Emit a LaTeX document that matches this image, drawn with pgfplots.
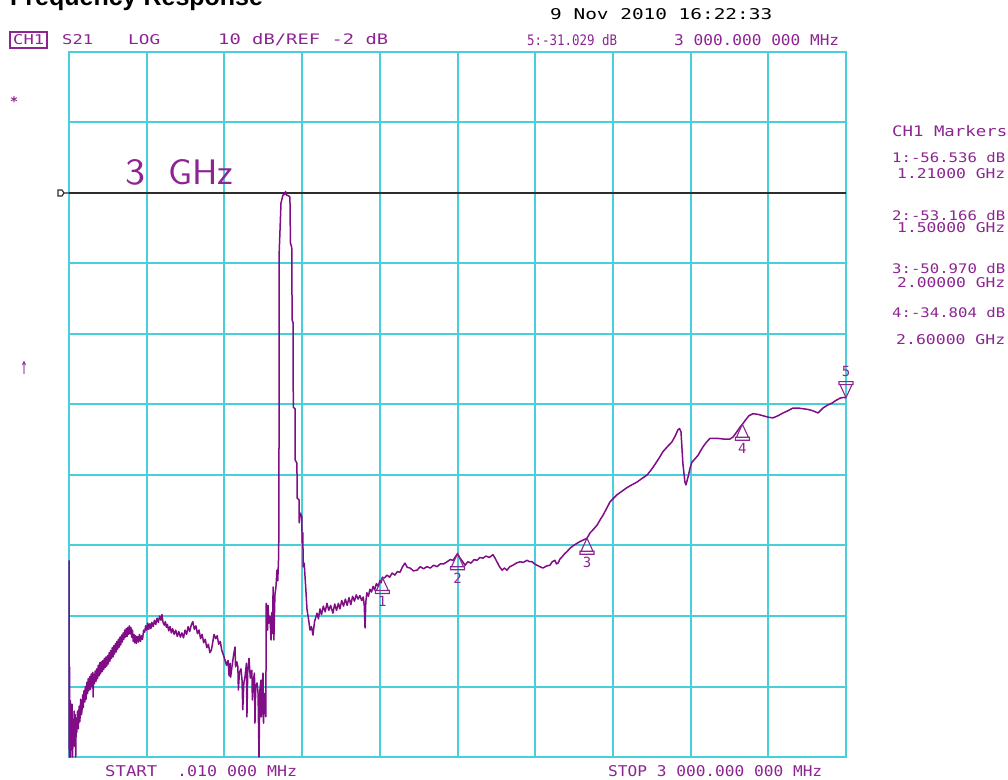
\documentclass[border=0pt]{standalone}
\usepackage{pgfplots}
\pgfplotsset{compat=1.18}
\usepackage{graphicx}
\usepackage{fontspec}
\newfontfamily\mono{DejaVu Sans Mono}
\newfontfamily\titlefont{Liberation Sans}

\definecolor{gridcyan}{RGB}{72,208,218}
\definecolor{trace}{RGB}{128,12,134}
\definecolor{ink}{RGB}{140,36,146}
\definecolor{refline}{RGB}{45,45,45}

% instrument-style text: x, baseline y (from top), width, height, text, colour
\newcommand{\txt}[6]{\node[anchor=base west, inner sep=0pt, text=#6] at (#1,{779-#2}) {\resizebox{#3pt}{#4pt}{\mono #5}};}

% marker symbols
\pgfdeclareplotmark{mkup}{%
  \pgfpathmoveto{\pgfpoint{0pt}{0pt}}%
  \pgfpathlineto{\pgfpoint{-6pt}{-13pt}}%
  \pgfpathlineto{\pgfpoint{6pt}{-13pt}}%
  \pgfpathclose
  \pgfpathrectangle{\pgfpoint{-7pt}{-16pt}}{\pgfpoint{14pt}{3pt}}%
  \pgfusepathqstroke}
\pgfdeclareplotmark{mkdown}{%
  \pgfpathmoveto{\pgfpoint{0pt}{0pt}}%
  \pgfpathlineto{\pgfpoint{-6pt}{13pt}}%
  \pgfpathlineto{\pgfpoint{6pt}{13pt}}%
  \pgfpathclose
  \pgfpathrectangle{\pgfpoint{-7pt}{13pt}}{\pgfpoint{14pt}{3pt}}%
  \pgfusepathqstroke}
\pgfdeclareplotmark{refflag}{%
  \pgfpathmoveto{\pgfpoint{-11pt}{-3pt}}%
  \pgfpathlineto{\pgfpoint{-7pt}{-3pt}}%
  \pgfpathlineto{\pgfpoint{-5pt}{0pt}}%
  \pgfpathlineto{\pgfpoint{-7pt}{3pt}}%
  \pgfpathlineto{\pgfpoint{-11pt}{3pt}}%
  \pgfpathclose
  \pgfpathmoveto{\pgfpoint{-5pt}{0pt}}%
  \pgfpathlineto{\pgfpoint{0pt}{0pt}}%
  \pgfusepathqstroke}

% S21 trace, frequency in MHz, magnitude in dB
\pgfplotstableread{
f db
0.01 -54.1
1 -82
2.5 -69.2
3.5 -82
5 -74
6.5 -82
8 -76
10 -81
12 -74.5
14 -82
16 -77
18 -79.5
20 -75.5
22 -80.5
24 -76
26 -82
28 -76.5
30 -78.5
33 -75.5
36 -78
39 -74.8
42 -77
45 -73.8
48 -76
50 -75.5
53 -73.2
55 -75.0
58 -72.6
61 -74.2
63 -72.0
66 -73.8
69 -71.4
72 -73.0
74 -70.9
77 -72.6
80 -70.6
83 -72.4
86 -70.2
89 -72.0
92 -70.0
93 -73.5
95 -70.3
98 -71.6
101 -69.8
104 -71.3
107 -69.5
110 -70.9
113 -69.0
116 -70.5
119 -68.6
122 -70.2
125 -68.5
128 -69.9
131 -68.3
134 -69.6
137 -68.0
140 -69.3
143 -67.8
146 -69.1
149 -67.6
152 -68.8
155 -67.2
158 -68.4
161 -66.9
164 -68.0
167 -66.5
170 -67.8
173 -66.2
176 -67.4
179 -65.9
182 -67.1
185 -65.6
188 -66.7
191 -65.3
194 -66.4
197 -65.0
200 -66.1
203 -64.7
206 -65.7
209 -64.4
212 -65.3
215 -64.0
218 -65.0
221 -63.8
224 -64.9
227 -63.6
230 -64.6
233 -63.4
236 -64.5
239 -63.6
242 -65.0
245 -64.0
248 -65.6
251 -64.6
254 -65.8
257 -64.8
260 -65.9
264 -64.9
268 -65.7
272 -64.6
276 -65.6
280 -64.8
284 -65.3
288 -64.0
292 -64.3
296 -63.4
300 -64.0
304 -63.0
308 -63.9
312 -63.1
316 -63.8
320 -62.9
325 -63.5
330 -62.6
335 -63.2
340 -62.3
345 -62.9
350 -62.0
355 -62.6
359 -61.8
363 -62.9
368 -63.3
372 -62.8
376 -63.6
380 -63.2
385 -64.1
390 -63.5
395 -64.4
400 -63.8
406 -64.6
412 -64.0
418 -64.9
424 -64.2
430 -65.0
436 -64.4
442 -65.1
448 -64.0
454 -64.6
460 -63.5
466 -64.2
472 -63.3
478 -62.8
484 -63.9
490 -63.4
496 -64.5
502 -64.0
508 -65.2
514 -64.6
520 -65.8
526 -65.3
532 -66.5
538 -66.0
544 -67.2
550 -66.8
556 -65.5
560 -64.6
566 -65.2
572 -64.8
578 -66.0
584 -65.6
590 -66.9
596 -67.5
602 -68.2
608 -69.0
614 -68.3
618 -70.5
622 -68.7
624 -70.7
630 -69.0
636 -67.4
641 -66.4
643 -69.2
648 -68.5
652 -69.2
654 -72.5
658 -70.0
664 -69.5
668 -71.1
671 -75.3
675 -71.5
680 -70.5
685 -68.7
687 -76.3
690 -70.0
695 -68.0
700 -70.8
706 -69.7
708 -73.9
712 -71.0
716 -70.1
718 -77.2
721 -72.0
726 -71.5
730 -73.0
733.6 -82
737 -72.5
741 -71.1
743 -76.3
746 -72.0
749 -70.1
751 -77.2
755 -73.0
758 -74.0
760 -76.3
761.5 -60.2
764 -62.5
767 -64.0
768.5 -60.5
772 -63.0
776 -62.1
780 -65.4
783 -61.5
786 -64.5
788 -57.9
791 -65.4
795 -59.0
799 -57.9
803 -55.5
806 -57.0
809 -54.0
810.5 -49.8
811.5 -10.5
818.5 -3.4
826 -2.3
832 -2.2
836 -1.8
840 -2.3
848 -2.4
853 -2.6
855 -9.1
860 -9.7
861.5 -20.0
865 -20.4
866 -32.4
872.6 -32.6
873.5 -39.9
880 -40.3
881 -45.3
888 -45.5
889 -48.8
893 -47.4
899 -47.9
900 -51.6
903 -50.2
904 -55.0
908 -54.5
914 -58.0
919 -61.1
925 -62.5
930.5 -64.0
936 -63.5
942 -64.7
948 -62.8
957.5 -61.6
963 -62.4
969 -61.0
975 -61.8
982 -60.6
989 -61.4
996 -60.2
1003 -61.2
1010 -60.5
1019 -61.6
1026 -60.3
1033 -61.2
1040 -60.2
1046 -61.0
1053 -59.8
1060 -60.6
1067 -59.6
1074 -60.5
1081 -59.4
1088 -60.4
1095 -59.2
1102 -59.9
1109 -59.0
1116 -59.6
1123 -59.1
1130 -59.8
1136 -59.3
1140 -60.5
1143 -63.7
1146 -60.0
1150 -58.7
1156 -59.2
1162 -58.2
1168 -58.6
1174 -57.8
1180 -58.3
1187 -57.4
1194 -57.8
1200 -57.0
1205 -57.3
1210 -56.536
1218 -56.6
1228 -56.2
1238 -56.5
1248 -55.9
1258 -56.2
1268 -55.7
1278 -55.8
1288 -55.0
1297 -54.5
1306 -55.1
1317 -55.2
1330 -55.6
1344 -55.5
1356 -55.0
1369 -55.3
1382 -55.0
1395 -55.2
1408 -54.8
1421 -55.0
1434 -54.6
1447 -54.6
1460 -54.3
1472 -54.0
1483 -54.1
1492 -53.6
1500 -53.166
1510 -53.8
1520 -54.3
1529 -54.8
1540 -54.3
1552 -54.5
1564 -54.0
1575 -54.1
1587 -53.7
1598 -53.8
1610 -53.5
1623 -53.7
1637 -53.3
1645 -53.8
1652 -54.3
1662 -55.0
1672 -55.5
1681 -55.2
1691 -55.5
1702 -55.0
1714 -54.8
1727 -54.5
1741 -54.3
1754 -54.4
1768 -54.1
1778 -54.3
1788 -54.3
1797 -54.6
1807 -54.8
1818 -55.0
1830 -55.2
1844 -54.9
1857 -54.8
1866 -54.3
1876 -54.1
1882 -54.6
1888 -54.5
1896 -53.9
1904 -53.6
1913 -53.2
1922 -52.9
1934 -52.4
1948 -52.0
1961 -51.7
1975 -51.4
1987 -51.2
2000 -50.970
2012 -50.2
2025 -49.7
2039 -49.1
2050 -48.4
2062 -47.7
2075 -46.8
2089 -45.8
2102 -45.3
2116 -44.8
2135 -44.3
2154 -43.8
2173 -43.4
2193 -43.0
2212 -42.5
2232 -42.0
2245 -41.4
2255 -40.9
2275 -39.8
2293 -38.7
2310 -38.0
2328 -37.3
2340 -36.5
2351 -35.6
2357 -35.4
2363 -35.9
2370 -40.3
2378 -43.0
2382 -43.4
2390 -42.3
2398 -41.0
2405 -40.2
2417 -39.7
2429 -39.2
2438 -38.6
2448 -38.0
2460 -37.4
2475 -36.8
2490 -36.8
2502 -36.8
2527 -36.9
2552 -36.9
2564 -36.6
2578 -35.9
2591 -35.2
2600 -34.804
2612 -34.2
2625 -33.6
2641 -33.3
2660 -33.4
2680 -33.6
2700 -33.8
2718 -33.9
2737 -33.6
2757 -33.2
2775 -32.9
2795 -32.5
2815 -32.5
2834 -32.6
2853 -32.7
2873 -32.9
2892 -33.2
2911 -32.5
2928 -32.1
2946 -31.8
2962 -31.4
2977 -31.1
2990 -31.0
3000 -31.029
}\tracetable

\begin{document}
\begin{tikzpicture}[x=1pt,y=1pt]
\useasboundingbox (0,0) rectangle (1008,779);

\begin{axis}[
  at={(69pt,22pt)}, anchor=south west,
  width=777pt, height=705pt, scale only axis,
  xmin=0, xmax=3000, ymin=-82, ymax=18,
  xtick={0,300,...,3000}, ytick={-82,-72,...,18},
  xticklabels={}, yticklabels={},
  major tick length=0pt,
  grid=major,
  grid style={gridcyan, line width=2pt},
  axis line style={gridcyan, line width=2pt},
  clip=false,
]
% reference level
\addplot[refline, line width=1.8pt, mark=refflag, mark repeat=2, mark options={line width=1.2pt, solid}] coordinates {(0,-2) (3000,-2)};

% measured trace
\addplot[trace, line width=1.5pt, line join=round, no markers] table[x=f, y=db] {\tracetable};

% markers 1-4
\addplot[only marks, mark=mkup, ink, mark options={line width=1.1pt}] coordinates {
  (1210,-56.536) (1500,-53.166) (2000,-50.970) (2600,-34.804)};
% marker 5
\addplot[only marks, mark=mkdown, ink, mark options={line width=1.1pt}] coordinates {(3000,-31.029)};

\node[anchor=north, inner sep=0pt, text=ink, yshift=-19pt] at (axis cs:1210,-56.536) {\mono\fontsize{14}{14}\selectfont 1};
\node[anchor=north, inner sep=0pt, text=ink, yshift=-19pt] at (axis cs:1500,-53.166) {\mono\fontsize{14}{14}\selectfont 2};
\node[anchor=north, inner sep=0pt, text=ink, yshift=-19pt] at (axis cs:2000,-50.970) {\mono\fontsize{14}{14}\selectfont 3};
\node[anchor=north, inner sep=0pt, text=ink, yshift=-19pt] at (axis cs:2600,-34.804) {\mono\fontsize{14}{14}\selectfont 4};
\node[anchor=south, inner sep=0pt, text=ink, yshift=21pt] at (axis cs:3000,-31.029) {\mono\fontsize{14}{14}\selectfont 5};
\end{axis}

% title (partly above the page edge)
\node[anchor=base west, inner sep=0pt] at (10,{779-6}) {\titlefont\bfseries\fontsize{25}{25}\selectfont Frequency Response};

% header lines
\txt{550}{20}{222}{11}{9 Nov 2010  16:22:33}{black}
\draw[ink, line width=1.2pt] (10,{779-48}) rectangle (47,{779-32});
\txt{13}{45}{31}{10}{CH1}{ink}
\txt{62}{45}{31}{10}{S21}{ink}
\txt{128}{45}{32}{10}{LOG}{ink}
\txt{218}{45}{170}{11}{10 dB/REF -2 dB}{ink}
\txt{527}{46}{90}{11}{5:-31.029 dB}{ink}
\txt{674}{46}{165}{11}{3 000.000 000 MHz}{ink}

% side symbols
\node[anchor=center, inner sep=0pt, text=ink] at (14,{779-102}) {\resizebox{8pt}{!}{\mono\bfseries *}};
\node[anchor=base, inner sep=0pt, text=ink] at (24,{779-375}) {\resizebox{7pt}{13pt}{\mono ↑}};

% reference label
\node[anchor=base west, inner sep=0pt, text=ink] at (125,{779-185}) {\resizebox{20pt}{25pt}{\sffamily 3}};
\node[anchor=base west, inner sep=0pt, text=ink] at (168,{779-185}) {\resizebox{65pt}{25pt}{\sffamily GHz}};

% marker table
\txt{892}{137}{115}{11}{CH1 Markers}{ink}
\txt{892}{163}{113}{10}{1:-56.536 dB}{ink}
\txt{897}{179}{108}{10}{1.21000 GHz}{ink}
\txt{892}{221}{113}{10}{2:-53.166 dB}{ink}
\txt{897}{233}{108}{10}{1.50000 GHz}{ink}
\txt{892}{274}{113}{10}{3:-50.970 dB}{ink}
\txt{897}{288}{108}{10}{2.00000 GHz}{ink}
\txt{892}{318}{113}{10}{4:-34.804 dB}{ink}
\txt{896}{345}{109}{10}{2.60000 GHz}{ink}

% sweep limits
\txt{105}{776}{52}{11}{START}{ink}
\txt{177}{776}{120}{11}{.010 000 MHz}{ink}
\txt{608}{776}{214}{11}{STOP 3 000.000 000 MHz}{ink}
\end{tikzpicture}
\end{document}
